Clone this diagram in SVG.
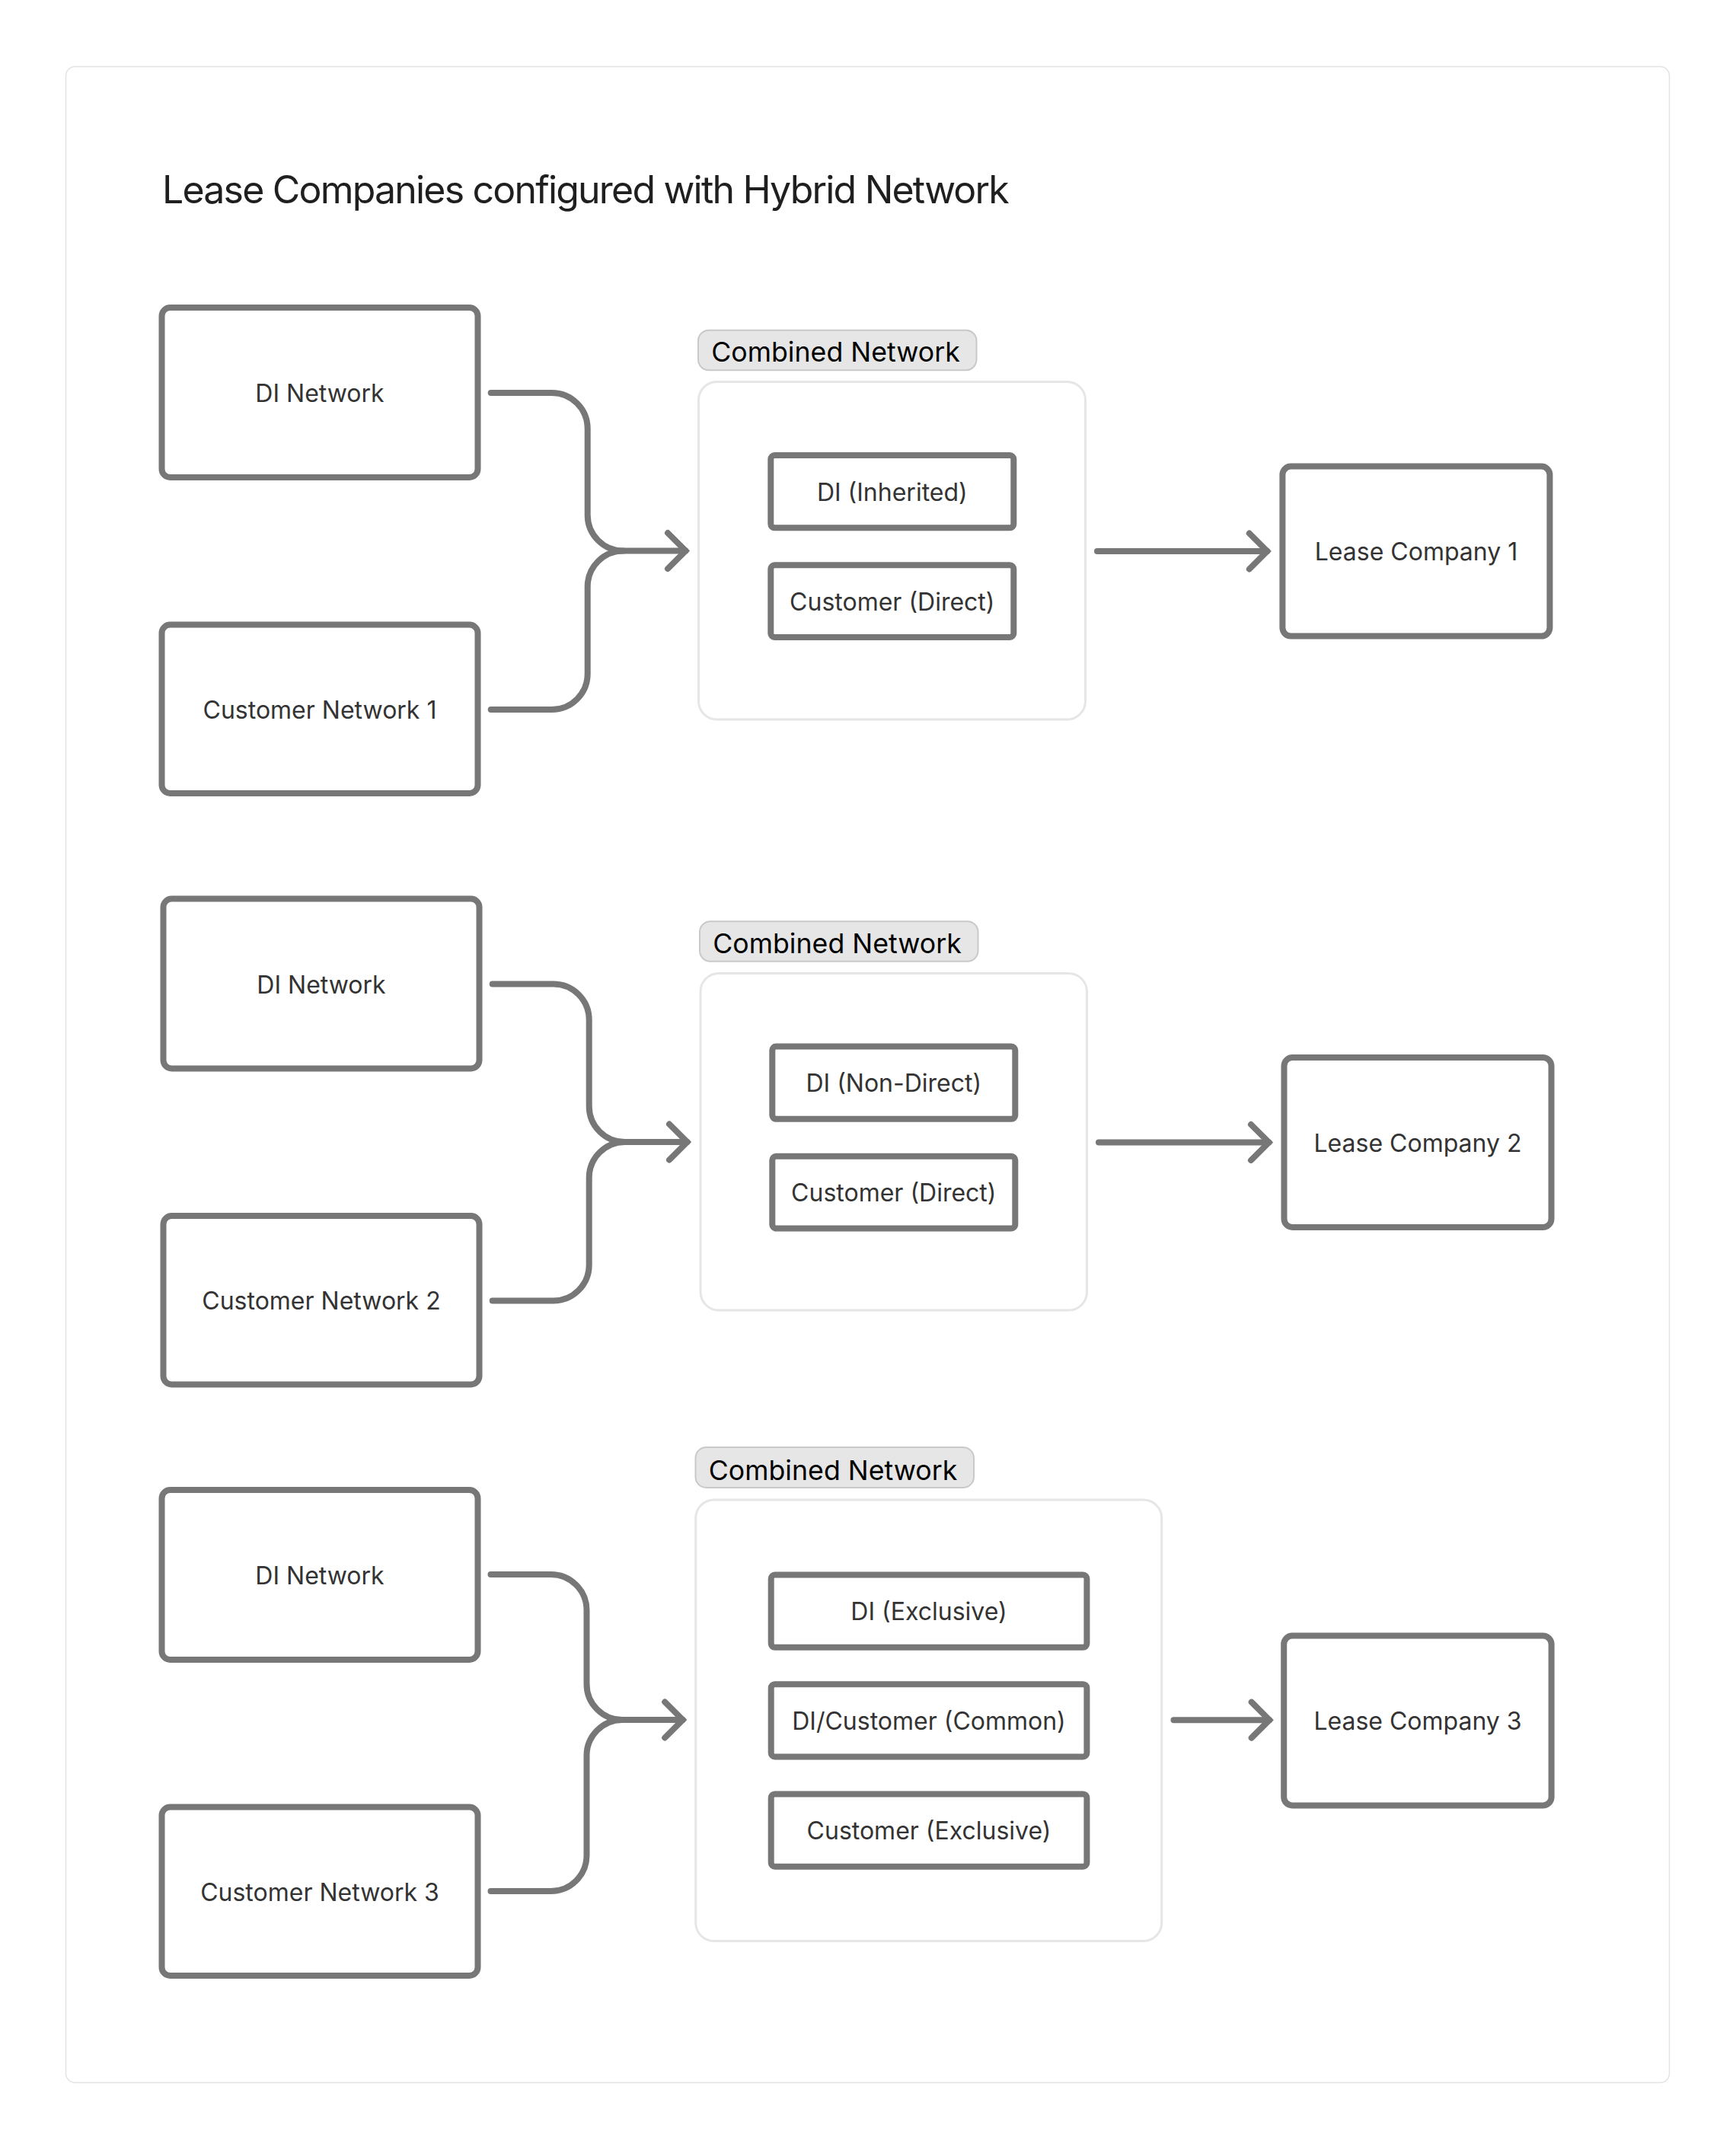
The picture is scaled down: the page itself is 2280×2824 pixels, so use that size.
<svg xmlns="http://www.w3.org/2000/svg" width="2280" height="2824" viewBox="0 0 2280 2824">
<defs>
<style>
.frame{fill:#ffffff;stroke:#e3e3e3;stroke-width:1.5}
.box{fill:#ffffff;stroke:#777777;stroke-width:8}
.cont{fill:#ffffff;stroke:#e6e6e6;stroke-width:3}
.pill{fill:#e6e6e6;stroke:#c9c9c9;stroke-width:2}
text{font-family:Inter,"Liberation Sans",Arial,sans-serif}
.lbl{font-size:32px;fill:#333333;text-anchor:middle}
.plbl{font-size:35.7px;fill:#000000;text-anchor:middle}
.title{font-size:50px;letter-spacing:-1.8px;fill:#1f1f1f}
.conn{fill:none;stroke:#777777;stroke-width:8;stroke-linecap:round;stroke-linejoin:round}
.head{fill:none;stroke:#777777;stroke-width:8;stroke-linecap:round;stroke-linejoin:miter}
</style>
<marker id="ah" markerUnits="userSpaceOnUse" markerWidth="40" markerHeight="60" refX="0" refY="0" orient="auto" style="overflow:visible">
<path class="head" d="M-23.5,-23.5 L0,0 L-23.5,23.5"/>
</marker>
</defs>
<rect x="0" y="0" width="2280" height="2824" fill="#ffffff"/>
<rect id="frame" class="frame" x="86.5" y="87.5" width="2106" height="2648" rx="12"/>
<text id="title" class="title" x="213" y="266.5">Lease Companies configured with Hybrid Network</text>

<!-- Section 1 -->
<g id="di-network-1"><rect class="box" x="212.5" y="404" width="415" height="223" rx="11"/><text class="lbl" x="420" y="528">DI Network</text></g>
<g id="customer-network-1"><rect class="box" x="212.5" y="820.5" width="415" height="221.5" rx="11"/><text class="lbl" x="420" y="943.5">Customer Network 1</text></g>
<g id="combined-network-1">
<rect class="cont" x="917.5" y="501.5" width="508" height="443.5" rx="24"/>
<rect class="pill" x="917" y="433.7" width="365.5" height="52.6" rx="14"/>
<text class="plbl" x="1097.5" y="475">Combined Network</text>
</g>
<g id="di-inherited"><rect class="box" x="1012.3" y="598" width="319" height="95.3" rx="5"/><text class="lbl" x="1171.8" y="657.7">DI (Inherited)</text></g>
<g id="customer-direct-1"><rect class="box" x="1012.3" y="742.3" width="319" height="94.7" rx="5"/><text class="lbl" x="1171.8" y="801.7">Customer (Direct)</text></g>
<g id="lease-company-1"><rect class="box" x="1684.4" y="612.6" width="351" height="223" rx="11"/><text class="lbl" x="1860" y="736">Lease Company 1</text></g>

<!-- Section 2 -->
<g id="di-network-2"><rect class="box" x="214.5" y="1180.5" width="415" height="223" rx="11"/><text class="lbl" x="422" y="1304.5">DI Network</text></g>
<g id="customer-network-2"><rect class="box" x="214.5" y="1597" width="415" height="221.5" rx="11"/><text class="lbl" x="422" y="1720">Customer Network 2</text></g>
<g id="combined-network-2">
<rect class="cont" x="920" y="1278.5" width="507.5" height="442.5" rx="24"/>
<rect class="pill" x="919" y="1210.2" width="365.5" height="52.6" rx="14"/>
<text class="plbl" x="1099.5" y="1251.5">Combined Network</text>
</g>
<g id="di-non-direct"><rect class="box" x="1014.3" y="1374.5" width="319" height="95.3" rx="5"/><text class="lbl" x="1173.8" y="1434.2">DI (Non-Direct)</text></g>
<g id="customer-direct-2"><rect class="box" x="1014.3" y="1518.8" width="319" height="94.7" rx="5"/><text class="lbl" x="1173.8" y="1578.2">Customer (Direct)</text></g>
<g id="lease-company-2"><rect class="box" x="1686.5" y="1389" width="351" height="223" rx="11"/><text class="lbl" x="1862" y="1512.5">Lease Company 2</text></g>

<!-- Section 3 -->
<g id="di-network-3"><rect class="box" x="212.5" y="1957" width="415" height="223" rx="11"/><text class="lbl" x="420" y="2081">DI Network</text></g>
<g id="customer-network-3"><rect class="box" x="212.5" y="2373.5" width="415" height="221.5" rx="11"/><text class="lbl" x="420" y="2496.5">Customer Network 3</text></g>
<g id="combined-network-3">
<rect class="cont" x="913.7" y="1970" width="612" height="579.5" rx="24"/>
<rect class="pill" x="913.5" y="1901" width="365.5" height="53" rx="14"/>
<text class="plbl" x="1094" y="1943.5">Combined Network</text>
</g>
<g id="di-exclusive"><rect class="box" x="1012.7" y="2068.5" width="414.7" height="95.3" rx="5"/><text class="lbl" x="1220" y="2128.2">DI (Exclusive)</text></g>
<g id="di-customer-common"><rect class="box" x="1012.7" y="2212.2" width="414.7" height="95.3" rx="5"/><text class="lbl" x="1220" y="2271.9">DI/Customer (Common)</text></g>
<g id="customer-exclusive"><rect class="box" x="1012.7" y="2356.4" width="414.7" height="95.3" rx="5"/><text class="lbl" x="1220" y="2416">Customer (Exclusive)</text></g>
<g id="lease-company-3"><rect class="box" x="1686.2" y="2148.6" width="351.4" height="222.8" rx="11"/><text class="lbl" x="1862" y="2272">Lease Company 3</text></g>

<g id="connectors">
<path class="conn" d="M644.7,516 H724.7 A47,47 0 0 1 771.7,563 V676.5 A47,47 0 0 0 818.7,723.5 H900.5" marker-end="url(#ah)"/>
<path class="conn" d="M644.7,932 H724.7 A47,47 0 0 0 771.7,885 V770.5 A47,47 0 0 1 818.7,723.5"/>
<path class="conn" d="M1441,724 H1664.3" marker-end="url(#ah)"/>

<path class="conn" d="M646.7,1292.5 H726.7 A47,47 0 0 1 773.7,1339.5 V1453 A47,47 0 0 0 820.7,1500 H902.5" marker-end="url(#ah)"/>
<path class="conn" d="M646.7,1708.5 H726.7 A47,47 0 0 0 773.7,1661.5 V1547 A47,47 0 0 1 820.7,1500"/>
<path class="conn" d="M1443,1500.5 H1666.5" marker-end="url(#ah)"/>

<path class="conn" d="M644.5,2068 H723.5 A47,47 0 0 1 770.5,2115 V2212 A47,47 0 0 0 817.5,2259 H896.7" marker-end="url(#ah)"/>
<path class="conn" d="M644.5,2484 H723.5 A47,47 0 0 0 770.5,2437 V2306 A47,47 0 0 1 817.5,2259"/>
<path class="conn" d="M1541.5,2259.2 H1667.2" marker-end="url(#ah)"/>
</g>
</svg>
